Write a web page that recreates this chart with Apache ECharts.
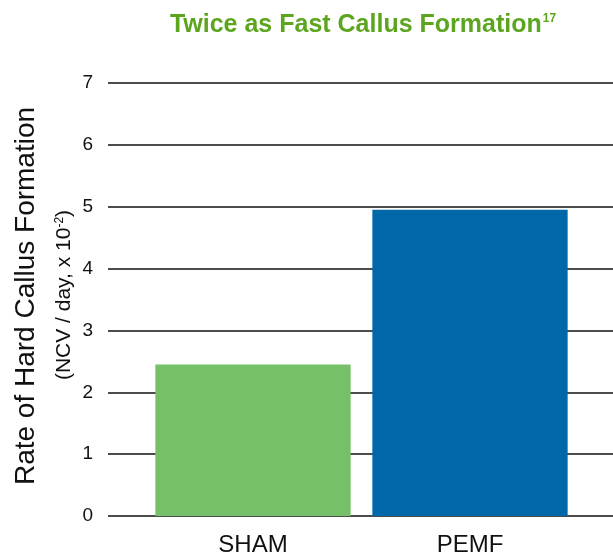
<!DOCTYPE html>
<html>
<head>
<meta charset="utf-8">
<script src="https://cdn.jsdelivr.net/npm/echarts@6/dist/echarts.min.js"></script>
<style>
  html, body { margin: 0; padding: 0; background: #fff; }
  #chart { width: 613px; height: 558px; }
</style>
</head>
<body>
<div id="chart"></div>
<script>
// data
var categories = ['SHAM', 'PEMF'];
var rates = [2.45, 4.95];
var barColors = ['#76c069', '#0068a9'];
var yMin = 0, yMax = 7, yStep = 1;

var chart = echarts.init(document.getElementById('chart'));

var option = {
  animation: false,
  title: {
    text: '{t|Twice as Fast Callus Formation}{s|17}',
    left: 358,
    textAlign: 'center',
    top: 8,
    textStyle: {
      rich: {
        t: { fontFamily: 'Liberation Sans', fontWeight: 'bold', fontSize: 25, color: '#5ca61f' },
        s: { fontFamily: 'Liberation Sans', fontWeight: 'bold', fontSize: 12, color: '#5ca61f', verticalAlign: 'top', padding: [0, 0, 12, 1] }
      }
    }
  },
  // grid 0 carries the gridlines + value labels, grid 1 the bars
  grid: [
    { left: 108, right: 0, top: 83, bottom: 42 },
    { left: 144.5, width: 434, top: 83, bottom: 42 }
  ],
  xAxis: [
    { gridIndex: 0, type: 'value', show: false, min: 0, max: 1 },
    {
      gridIndex: 1, type: 'category', data: categories,
      axisLine: { show: false }, axisTick: { show: false },
      axisLabel: { fontFamily: 'Liberation Sans', fontSize: 24, color: '#111', margin: 17 }
    }
  ],
  yAxis: [
    {
      gridIndex: 0, type: 'value', min: yMin, max: yMax, interval: yStep,
      axisLine: { show: false }, axisTick: { show: false },
      axisLabel: { fontFamily: 'Liberation Sans', fontSize: 19, color: '#111', margin: 15 },
      splitLine: { lineStyle: { color: '#111', width: 1.5 } }
    },
    { gridIndex: 1, type: 'value', min: yMin, max: yMax, show: false, splitLine: { show: false } }
  ],
  series: [{
    type: 'bar',
    xAxisIndex: 1, yAxisIndex: 1,
    barCategoryGap: '10%',
    data: rates.map(function (v, i) { return { value: v, itemStyle: { color: barColors[i] } }; }),
    z: 3
  }],
  graphic: [
    {
      type: 'text', x: 26, y: 296, rotation: Math.PI / 2,
      style: {
        text: 'Rate of Hard Callus Formation',
        font: '28px "Liberation Sans"', fill: '#111',
        align: 'center', verticalAlign: 'middle'
      }
    },
    {
      type: 'text', x: 64, y: 295, rotation: Math.PI / 2,
      style: {
        text: '{a|(NCV / day, x 10}{b|-2}{a|)}',
        rich: {
          a: { font: '21px "Liberation Sans"', fill: '#111' },
          b: { font: '12px "Liberation Sans"', fill: '#111', verticalAlign: 'top', padding: [0, 0, 9, 0] }
        },
        align: 'center', verticalAlign: 'middle'
      }
    }
  ]
};

chart.setOption(option);
</script>
</body>
</html>
